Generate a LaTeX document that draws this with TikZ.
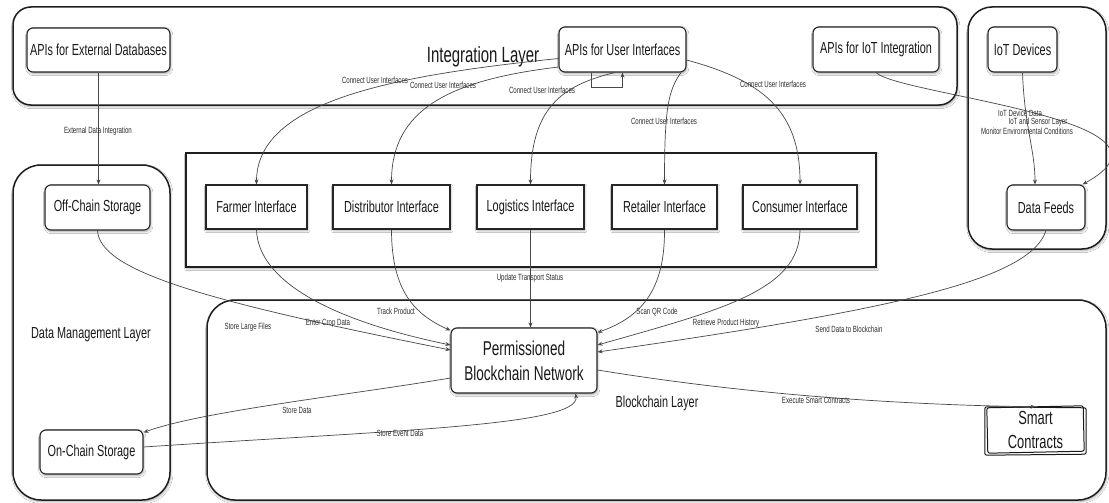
\documentclass[tikz,border=0pt]{standalone}
\usepackage{fontspec}
\setmainfont{Liberation Sans}[FakeStretch=0.68]
\usetikzlibrary{arrows.meta,calc,shadows.blur}

\tikzset{
  softshadow/.style={blur shadow={shadow xshift=0.8pt, shadow yshift=-1.6pt,
      shadow blur steps=5, shadow opacity=35}},
  layer/.style={draw=black!88, line width=1.5pt, fill=white, rounded corners=#1,
      inner sep=0pt, softshadow},
  layertitle/.style={inner sep=0pt, text=black!90, font=\fontsize{16}{18}\selectfont},
  apibox/.style={draw=black!85, line width=1.1pt, fill=white, rounded corners=6pt,
      inner sep=0pt, text=black!90, font=\fontsize{16}{18}\selectfont, softshadow},
  ifacebox/.style={draw=black!85, line width=1.1pt, fill=white,
      inner sep=0pt, text=black!90, font=\fontsize{16}{18}\selectfont, softshadow},
  smartbox/.style={inner sep=0pt, align=center, text=black!90,
      font=\fontsize{19}{24}\selectfont},
  sketch/.style={draw=black!90, line width=1pt, rounded corners=2pt},
  edge/.style={draw=black!72, line width=0.7pt, -{Stealth[length=5pt,width=4pt]}},
  lbl/.style={inner sep=0pt, text=black!82, font=\fontsize{9}{10}\selectfont},
}

\begin{document}
\begin{tikzpicture}[x=1pt,y=-1pt]
\fill[white] (0,0) rectangle (1109,503);
\useasboundingbox (0,0) rectangle (1109,503);

% ---------- layer containers ----------
\node[layer=18pt, minimum width=944pt, minimum height=98pt] (intlayer) at (485,56) {};
\node[layer=24pt, minimum width=138pt, minimum height=242pt] (iotlayer) at (1037,128) {};
\node[layer=0pt, minimum width=690pt, minimum height=114pt] (uilayer) at (531,210) {};
\node[layer=28pt, minimum width=157pt, minimum height=335pt] (dmlayer) at (91.5,332.5) {};
\node[layer=28pt, minimum width=899pt, minimum height=200pt] (bclayer) at (656.5,400) {};

\node[layertitle, font=\fontsize{22}{24}\selectfont] (inttitle) at (483,57) {Integration Layer};
\node[layertitle] (dmtitle) at (91,335) {Data Management Layer};
\node[layertitle] (bctitle) at (657,403) {Blockchain Layer};

% ---------- integration APIs ----------
\node[apibox, minimum width=143pt, minimum height=44pt] (extdb) at (98.5,50) {APIs for External Databases};
\node[apibox, minimum width=127pt, minimum height=45pt] (apiui) at (622.5,49.5) {APIs for User Interfaces};
\node[apibox, minimum width=126pt, minimum height=45pt] (apiiot) at (876,49.5) {APIs for IoT Integration};

% ---------- IoT ----------
\node[apibox, minimum width=69pt, minimum height=45pt] (iotdev) at (1022.5,49.5) {IoT Devices};
\node[apibox, minimum width=78pt, minimum height=45pt] (feeds) at (1046,207.5) {Data Feeds};

% ---------- user interfaces ----------
\node[ifacebox, minimum width=101pt, minimum height=44pt] (farmer) at (256.5,207) {Farmer Interface};
\node[ifacebox, minimum width=117pt, minimum height=44pt] (distrib) at (391.5,207) {Distributor Interface};
\node[ifacebox, minimum width=107pt, minimum height=44pt] (logist) at (530.5,207) {Logistics Interface};
\node[ifacebox, minimum width=105pt, minimum height=44pt] (retail) at (664.5,207) {Retailer Interface};
\node[ifacebox, minimum width=114pt, minimum height=44pt] (consumer) at (800,207) {Consumer Interface};

% ---------- storage ----------
\node[apibox, minimum width=105pt, minimum height=45pt] (offchain) at (97.5,207.5) {Off-Chain Storage};
\node[apibox, minimum width=103pt, minimum height=44pt] (onchain) at (91.5,452) {On-Chain Storage};

% ---------- blockchain ----------
\node[apibox, minimum width=146pt, minimum height=65pt, align=center,
      font=\fontsize{20}{25}\selectfont] (bc) at (524,360.5) {Permissioned\\Blockchain Network};
\node[smartbox, minimum width=99pt, minimum height=46pt] (smart) at (1035.5,430) {Smart\\Contracts};
\draw[sketch] ($(smart.north west)+(1,1)$) -- ($(smart.north east)+(-2,-1)$)
  -- ($(smart.south east)+(-1,-2)$) -- ($(smart.south west)+(2,0)$) -- cycle;
\draw[sketch] ($(smart.north west)+(-1,0)$) -- ($(smart.north east)+(1,1)$)
  -- ($(smart.south east)+(1,1)$) -- ($(smart.south west)+(-1,2)$) -- cycle;

% ---------- connectors ----------
\draw[edge] (extdb.south) -- (extdb.south |- offchain.north);

\draw[edge] ($(apiui.west)+(0,9)$) .. controls +(-159,16.5) and +(0,-85) .. (farmer.north);
\draw[edge] ($(apiui.west)+(0,17.5)$) .. controls +(-109,13) and +(0,-75) .. (distrib.north);
\draw[edge] ($(apiui.south)+(-7.5,0)$) .. controls +(-55,13) and +(0,-75) .. (logist.north);
\draw[edge] ($(apiui.south)+(58.5,0)$) .. controls +(-13,18) and +(0,-75) .. (retail.north);
\draw[edge] ($(apiui.east)+(0,10.5)$) .. controls +(74,20) and +(0,-75) .. (consumer.north);
\draw[edge] ($(apiui.south)+(-31.5,0)$) |- ($(apiui.south)+(0,15)$) -- (apiui.south);

\draw[edge] (apiiot.south) .. controls +(24,23) and +(118,-65) .. ($(feeds.north east)+(-3,0)$);
\draw[edge] (iotdev.south) .. controls +(2,55) and +(0,-35) .. ($(feeds.north)+(-11,0)$);

\draw[edge] (offchain.south) .. controls +(2.5,40) and +(-251,-50) .. ($(bc.west)+(0,-10.5)$);
\draw[edge] (farmer.south) .. controls +(1.5,51) and +(-121,-25) .. ($(bc.west)+(0,-15.5)$);
\draw[edge] (distrib.south) .. controls +(0,61) and +(-36,-16) .. ($(bc.north west)+(0,3)$);
\draw[edge] (logist.south) -- (logist.south |- bc.north);
\draw[edge] (retail.south) .. controls +(0.5,61) and +(43,-15) .. ($(bc.north east)+(0,5)$);
\draw[edge] (consumer.south) .. controls +(0,61) and +(123,-35) .. ($(bc.east)+(0,-15.5)$);
\draw[edge] (feeds.south) .. controls +(-16,50) and +(293,-42) .. ($(bc.east)+(0,-8.5)$);

\draw[edge] ($(bc.west)+(0,17.5)$) .. controls +(-101,17) and +(57,-21) .. ($(onchain.north east)+(0,3)$);
\draw[edge] ($(onchain.east)+(0,-5)$) .. controls +(257,-17) and +(5,32) .. ($(bc.south east)+(-22,0)$);
\draw[edge] ($(bc.east)+(0,9.5)$) .. controls +(153,25) and +(-135,-2) .. (smart.north);

% ---------- connector labels ----------
\node[lbl] (l-ext) at (98,131) {External Data Integration};
\node[lbl] (l-ui1) at (375,80) {Connect User Interfaces};
\node[lbl] (l-ui2) at (443,85) {Connect User Interfaces};
\node[lbl] (l-ui3) at (542,90) {Connect User Interfaces};
\node[lbl] (l-ui4) at (664,121) {Connect User Interfaces};
\node[lbl] (l-ui5) at (773,84) {Connect User Interfaces};
\node[lbl] (l-iotd) at (1020,113) {IoT Device Data};
\node[lbl] (l-iotl) at (1038,122) {IoT and Sensor Layer};
\node[lbl] (l-mon) at (1027,131) {Monitor Environmental Conditions};

\node[lbl] (l-large) at (248,327) {Store Large Files};
\node[lbl] (l-crop) at (328,323) {Enter Crop Data};
\node[lbl] (l-track) at (396,311) {Track Product};
\node[lbl] (l-trans) at (530,278) {Update Transport Status};
\node[lbl] (l-qr) at (657,312) {Scan QR Code};
\node[lbl] (l-hist) at (726,323) {Retrieve Product History};
\node[lbl] (l-send) at (849,329) {Send Data to Blockchain};
\node[lbl] (l-store) at (297,410) {Store Data};
\node[lbl] (l-event) at (400,433) {Store Event Data};
\node[lbl] (l-exec) at (816,400) {Execute Smart Contracts};
\end{tikzpicture}
\end{document}
